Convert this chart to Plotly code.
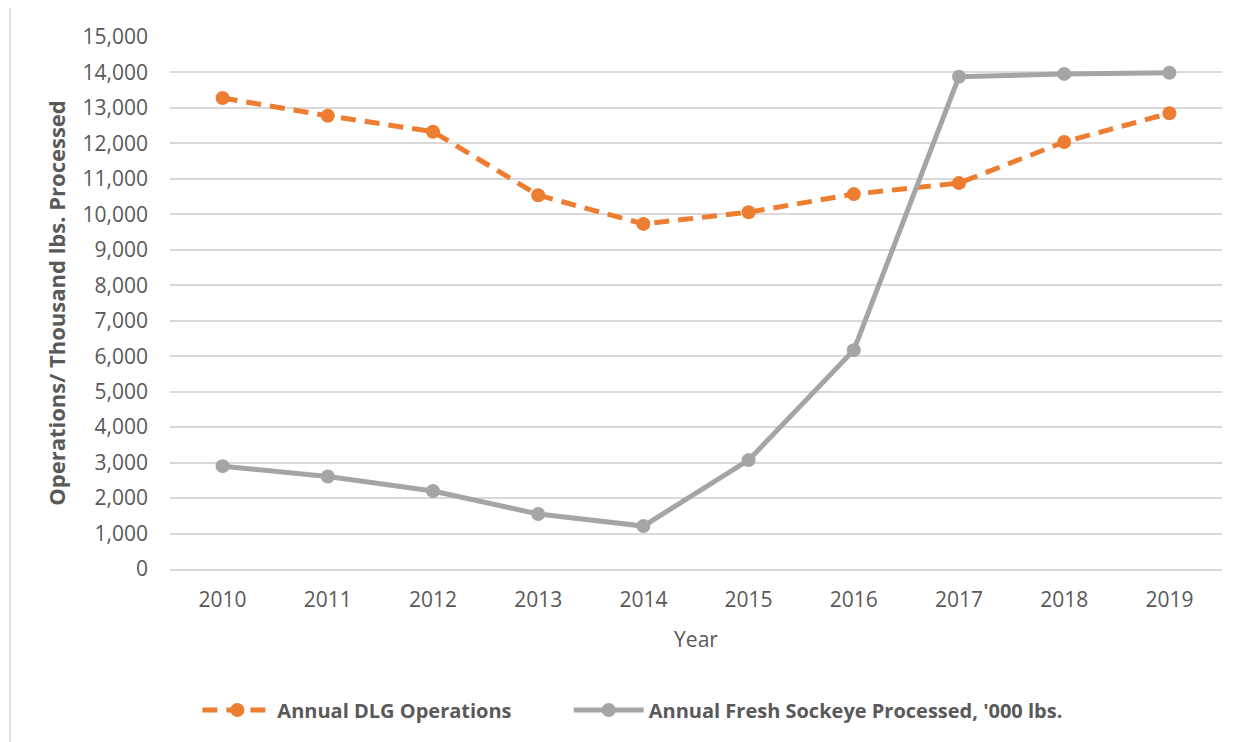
import plotly.graph_objects as go

years = ["2010", "2011", "2012", "2013", "2014", "2015", "2016", "2017", "2018", "2019"]
dlg_operations = [13280, 12780, 12330, 10540, 9730, 10060, 10570, 10880, 12040, 12850]
sockeye_processed = [2900, 2610, 2200, 1550, 1210, 3070, 6170, 13880, 13960, 13990]

fig = go.Figure()

fig.add_trace(go.Scatter(
    x=years, y=dlg_operations,
    name="<b>Annual DLG Operations</b>",
    mode="lines+markers",
    line=dict(color="#ed7d31", width=5, dash="15px,9px"),
    marker=dict(color="#ed7d31", size=14),
    legend="legend",
))

fig.add_trace(go.Scatter(
    x=years, y=sockeye_processed,
    name="<b>Annual Fresh Sockeye Processed, '000 lbs.</b>",
    mode="lines+markers",
    line=dict(color="#a5a5a5", width=5),
    marker=dict(color="#a5a5a5", size=14),
    legend="legend2",
))

# chart border
fig.add_shape(
    type="rect", xref="paper", yref="paper",
    x0=-0.152, x1=1.018, y0=-0.33, y1=1.075,
    line=dict(color="#d9d9d9", width=1.5),
)

legend_style = dict(
    orientation="h",
    y=-0.265, yanchor="middle",
    xanchor="left",
    font=dict(size=20, color="#595959"),
    itemwidth=70,
    bgcolor="rgba(0,0,0,0)",
)

fig.update_layout(
    width=1236, height=734,
    margin=dict(l=162, r=22, t=29, b=173),
    paper_bgcolor="white",
    plot_bgcolor="white",
    font=dict(family="Open Sans, Liberation Sans, sans-serif", color="#595959", size=20),
    showlegend=True,
    legend=dict(legend_style, x=0.026),
    legend2=dict(legend_style, x=0.379),
    xaxis=dict(
        type="category",
        range=[-0.5, 9.5],
        showgrid=False,
        showline=True,
        linecolor="#d9d9d9",
        linewidth=1.5,
        ticks="",
        ticklabelstandoff=11,
        title=dict(text="Year", font=dict(size=21, color="#595959"), standoff=20),
        tickfont=dict(size=21, color="#595959"),
    ),
    yaxis=dict(
        range=[0, 15000],
        dtick=1000,
        tickformat=",d",
        showgrid=True,
        gridcolor="#d9d9d9",
        gridwidth=1.5,
        zeroline=False,
        ticks="",
        ticklabelstandoff=21,
        title=dict(text="<b>Operations/ Thousand lbs. Processed</b>",
                   font=dict(size=22, color="#595959"), standoff=10),
        tickfont=dict(size=21, color="#595959"),
    ),
)

fig.write_html("out.html")
